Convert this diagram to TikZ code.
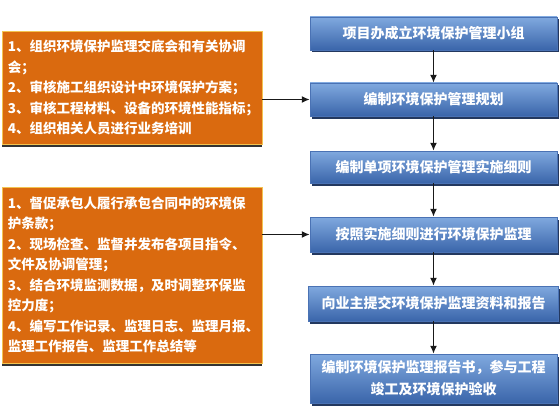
\documentclass[tikz,border=0pt]{standalone}
\usepackage{fontspec}
\newfontfamily\cjk{Noto Sans CJK SC}
\usetikzlibrary{arrows.meta,shadows}
\definecolor{boxtop}{HTML}{80A9DF}
\definecolor{boxbot}{HTML}{3A65AA}
\definecolor{boxline}{HTML}{4A72B4}
\definecolor{boxshade}{HTML}{23385F}
\definecolor{notefill}{HTML}{DA6A0F}
\definecolor{noteline}{HTML}{F3C350}
\tikzset{
	flowbox/.style={draw=boxline, top color=boxtop, bottom color=boxbot, text=white, align=center,
		font=\cjk\bfseries\fontsize{14}{22}\selectfont, minimum width=247pt,
		drop shadow={shadow xshift=1.5pt, shadow yshift=-2.5pt, fill=boxshade, opacity=1}},
	notebox/.style={draw=noteline, fill=notefill, line width=0.8pt, text=white, align=left,
		font=\cjk\bfseries\fontsize{13.5}{20.5}\selectfont, minimum width=260pt, text width=248pt,
		drop shadow={shadow xshift=0pt, shadow yshift=-2.5pt, fill=black!80, opacity=1}},
	flowarrow/.style={line width=1.6pt, draw=black!90, -{Latex[length=8pt,width=7pt]}}
}
\begin{document}
\begin{tikzpicture}[x=1pt,y=-1pt]
				\useasboundingbox (0,0) rectangle (560,420);
				
				\node[notebox, minimum height=113pt] (planwork) at (132,87.5) {1、组织环境保护监理交底会和有关协调\\会；\\2、审核施工组织设计中环境保护方案；\\3、审核工程材料、设备的环境性能指标；\\4、组织相关人员进行业务培训};
				\node[notebox, minimum height=176pt] (sitework) at (132,275) {1、督促承包人履行承包合同中的环境保\\护条款；\\2、现场检查、监督并发布各项目指令、\\文件及协调管理；\\3、结合环境监测数据，及时调整环保监\\控力度；\\4、编写工作记录、监理日志、监理月报、\\监理工作报告、监理工作总结等};
				
				\node[flowbox, minimum height=33pt] (group) at (433.5,33.5) {项目办成立环境保护管理小组};
				\node[flowbox, minimum height=33pt] (plan) at (433.5,99.5) {编制环境保护管理规划};
				\node[flowbox, minimum height=32pt] (rules) at (433.5,167) {编制单项环境保护管理实施细则};
				\node[flowbox, minimum height=35pt] (supervise) at (433.5,234.5) {按照实施细则进行环境保护监理};
				\node[flowbox, minimum height=35pt, minimum width=250pt] (submit) at (433.5,303.5) {向业主提交环境保护监理资料和报告};
				\node[flowbox, minimum height=49pt] (report) at (433.5,378.5) {编制环境保护监理报告书，参与工程\\竣工及环境保护验收};
				
				\draw[flowarrow] (group) -- (plan);
				\draw[flowarrow] (plan) -- (rules);
				\draw[flowarrow] (rules) -- (supervise);
				\draw[flowarrow] (supervise) -- (submit);
				\draw[flowarrow] (submit) -- (report);
				
				\draw[flowarrow] (planwork.east |- plan.west) -- (plan.west);
				\draw[flowarrow] (sitework.east |- supervise.west) -- (supervise.west);
			\end{tikzpicture}
\end{document}
